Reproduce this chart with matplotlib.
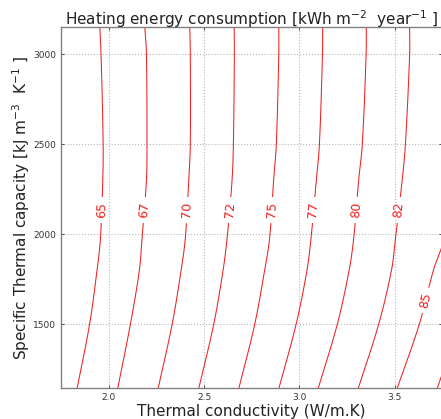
import numpy as np
import matplotlib
matplotlib.use("Agg")
import matplotlib.pyplot as plt

# Contour levels (heating energy consumption) and their label texts
levels = [65, 67.5, 70, 72.5, 75, 77.5, 80, 82.5, 85, 87.5]
level_labels = ["65", "67", "70", "72", "75", "77", "80", "82", "85", "87"]

# Specific thermal capacity rows at which contour positions were read
row_capacity = [1140, 1500, 1800, 1978, 2301, 2500, 3000, 3160]

# Thermal conductivity where each level crosses each row
contour_x = [
    [1.834, 2.047, 2.259, 2.472, 2.682, 2.892, 3.098, 3.308, 3.512, 3.722],
    [1.900, 2.114, 2.333, 2.551, 2.766, 2.983, 3.199, 3.416, 3.629, 3.839],
    [1.939, 2.161, 2.380, 2.600, 2.818, 3.040, 3.261, 3.483, 3.703, 3.923],
    [1.957, 2.175, 2.402, 2.621, 2.844, 3.061, 3.285, 3.504, 3.760, 3.980],
    [1.969, 2.198, 2.420, 2.647, 2.865, 3.089, 3.311, 3.539, 3.800, 4.020],
    [1.971, 2.201, 2.428, 2.654, 2.879, 3.105, 3.330, 3.556, 3.820, 4.040],
    [1.960, 2.198, 2.428, 2.659, 2.892, 3.121, 3.350, 3.578, 3.840, 4.060],
    [1.953, 2.189, 2.425, 2.658, 2.892, 3.122, 3.351, 3.578, 3.840, 4.060],
]

# Where the inline labels sit
label_pos_x = [1.962, 2.192, 2.402, 2.633, 2.858, 3.078, 3.304, 3.529, 3.656]
label_pos_y = [2134, 2134, 2134, 2134, 2134, 2134, 2134, 2134, 1633]

x_ticks = [2.0, 2.5, 3.0, 3.5]
y_ticks = [1500, 2000, 2500, 3000]

# ---- build a smooth gridded field passing through the read positions ----
yk = np.array(row_capacity, dtype=float)
P = np.array(contour_x, dtype=float)          # rows x levels
ys = np.linspace(yk[0], yk[-1], 300)

def hermite_column(xk):
    n = len(yk)
    d = np.empty(n)
    d[0] = (xk[1] - xk[0]) / (yk[1] - yk[0])
    d[-1] = (xk[-1] - xk[-2]) / (yk[-1] - yk[-2])
    for k in range(1, n - 1):
        d[k] = (xk[k + 1] - xk[k - 1]) / (yk[k + 1] - yk[k - 1])
    idx = np.clip(np.searchsorted(yk, ys) - 1, 0, n - 2)
    h = yk[idx + 1] - yk[idx]
    s = (ys - yk[idx]) / h
    h00 = 2 * s**3 - 3 * s**2 + 1
    h10 = s**3 - 2 * s**2 + s
    h01 = -2 * s**3 + 3 * s**2
    h11 = s**3 - s**2
    return h00 * xk[idx] + h10 * h * d[idx] + h01 * xk[idx + 1] + h11 * h * d[idx + 1]

Pf = np.column_stack([hermite_column(P[:, j]) for j in range(P.shape[1])])

xs = np.linspace(1.70, 3.80, 421)
lev = np.array(levels, dtype=float)
rows = []
for pos in Pf:
    z = np.interp(xs, pos, lev)
    lo = xs < pos[0]
    z[lo] = lev[0] - (pos[0] - xs[lo]) / (pos[1] - pos[0]) * (lev[1] - lev[0])
    hi = xs > pos[-1]
    z[hi] = lev[-1] + (xs[hi] - pos[-1]) / (pos[-1] - pos[-2]) * (lev[-1] - lev[-2])
    rows.append(z)
Z = np.array(rows)
X, Y = np.meshgrid(xs, ys)

fig = plt.figure(figsize=(4.41, 4.19), dpi=100)
ax = fig.add_axes([61 / 441, (419 - 388.3) / 419, 381.4 / 441, 361 / 419])

cs = ax.contour(X, Y, Z, levels=levels, colors="#f02020", linewidths=0.75)
fmt = {lv: lb for lv, lb in zip(levels, level_labels)}
ax.clabel(cs, levels=levels[:9], fmt=fmt, inline=True, fontsize=9,
          manual=list(zip(label_pos_x, label_pos_y)))

ax.set_xlim(1.75, 3.75)
ax.set_ylim(1143, 3150)
ax.set_xticks(x_ticks)
ax.set_xticklabels([f"{v:.1f}" for v in x_ticks])
ax.set_yticks(y_ticks)
ax.set_yticklabels([str(v) for v in y_ticks])
ax.grid(True, color="#b8b8b8", linestyle=":", linewidth=0.8)
ax.tick_params(direction="in", length=2.5, width=0.6, labelsize=6.5,
               colors="#333333", top=True, right=True)
for s in ax.spines.values():
    s.set_color("#808080")
    s.set_linewidth(1.0)

ax.set_title(r"Heating energy consumption [kWh m$^{-2}$  year$^{-1}$ ]",
             fontsize=11, color="#222222", pad=1.5)
ax.set_xlabel("Thermal conductivity (W/m.K)", fontsize=11, color="#222222", labelpad=1)
ax.set_ylabel(r"Specific Thermal capacity [kJ m$^{-3}$  K$^{-1}$ ]",
              fontsize=11, color="#222222", labelpad=1)

fig.savefig("out.png", dpi=100)
